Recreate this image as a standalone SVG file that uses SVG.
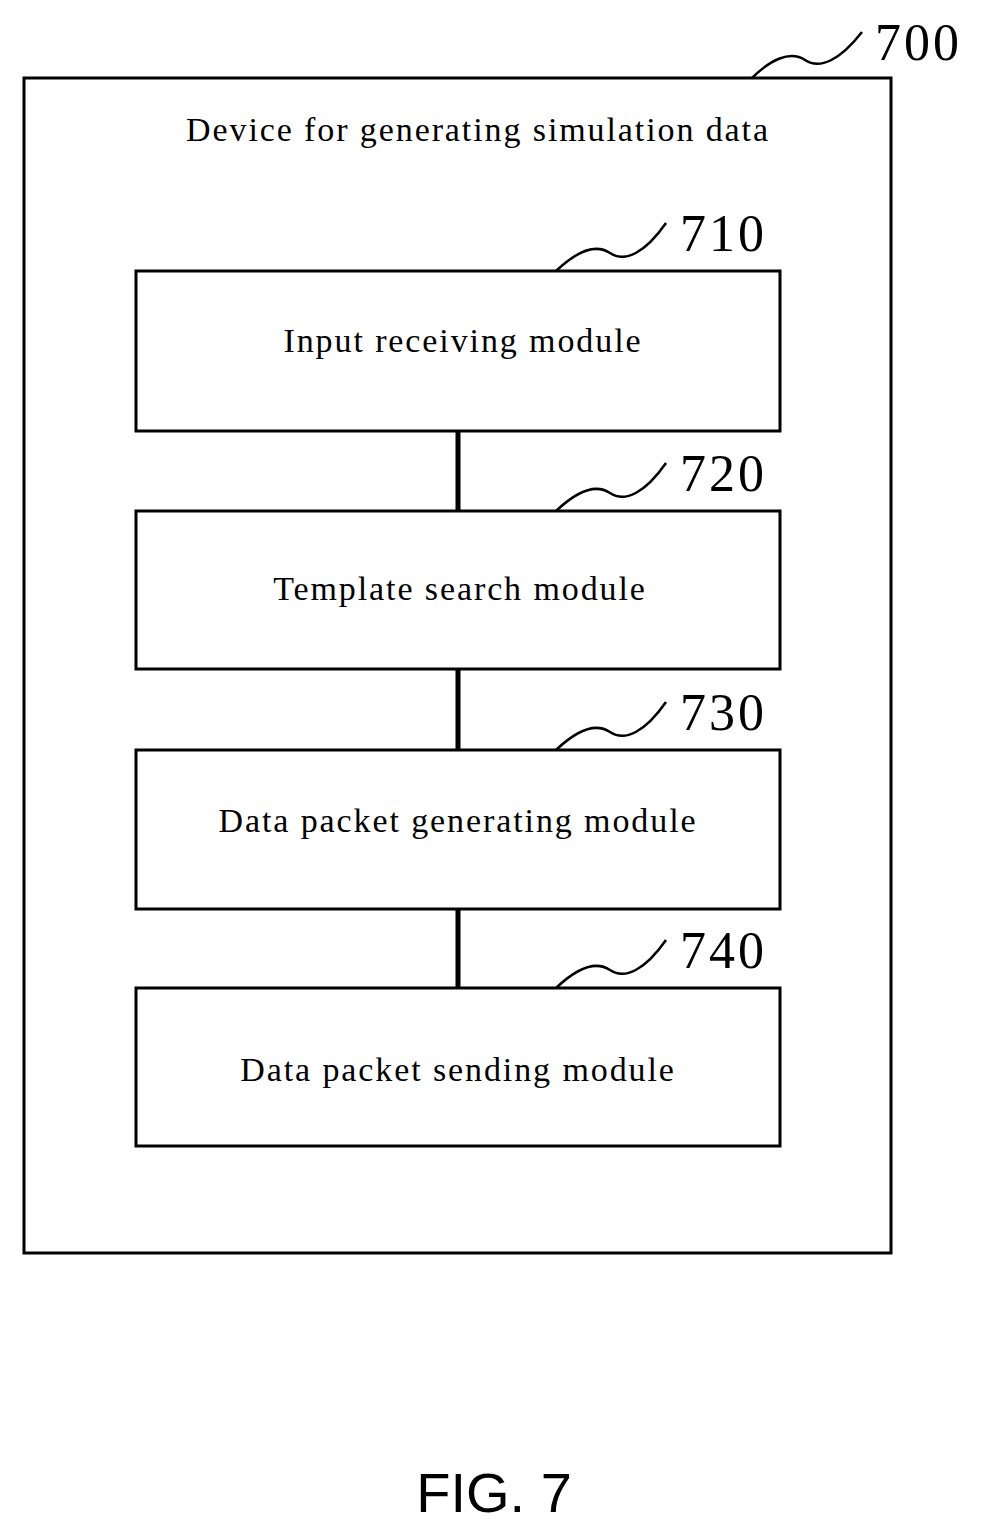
<svg xmlns="http://www.w3.org/2000/svg" width="983" height="1536" viewBox="0 0 983 1536">
<style>
.b{fill:#fff;stroke:#000;stroke-width:3}
.t{font-family:"Liberation Serif",serif;font-size:34px;text-anchor:middle;letter-spacing:1.9px}
.n{font-family:"Liberation Serif",serif;font-size:52px;letter-spacing:3px}
.s{fill:none;stroke:#000;stroke-width:2.5}
.c{fill:none;stroke:#000;stroke-width:5}
</style>
<rect width="983" height="1536" fill="#fff"/>
<g id="outer">
<rect class="b" x="24" y="78" width="867" height="1175"/>
<text class="t" x="478" y="141">Device for generating simulation data</text>
<path class="s" d="M752 78 C770 60,790 50,805 60 S840 60,862 32"/>
<text class="n" x="875" y="60">700</text>
</g>
<g id="connectors">
<path class="c" d="M458 431V511M458 669V750M458 909V988"/>
</g>
<g id="m710"><rect class="b" x="136" y="271" width="644" height="160"/>
<text class="t" x="463" y="352">Input receiving module</text>
<path class="s" d="M556 271 C575 253,595 243,610 253 S645 253,666 223"/><text class="n" x="680" y="251">710</text></g>
<g id="m720"><rect class="b" x="136" y="511" width="644" height="158"/>
<text class="t" x="460" y="600">Template search module</text>
<path class="s" d="M556 511 C575 493,595 483,610 493 S645 493,666 463"/><text class="n" x="680" y="491">720</text></g>
<g id="m730"><rect class="b" x="136" y="750" width="644" height="159"/>
<text class="t" x="458" y="832">Data packet generating module</text>
<path class="s" d="M556 750 C575 732,595 722,610 732 S645 732,666 702"/><text class="n" x="680" y="730">730</text></g>
<g id="m740"><rect class="b" x="136" y="988" width="644" height="158"/>
<text class="t" x="458" y="1081">Data packet sending module</text>
<path class="s" d="M556 988 C575 970,595 960,610 970 S645 970,666 940"/><text class="n" x="680" y="968">740</text></g>
<text x="494" y="1512" style="font-family:'Liberation Sans',sans-serif;font-size:56px;text-anchor:middle">FIG. 7</text>
</svg>
